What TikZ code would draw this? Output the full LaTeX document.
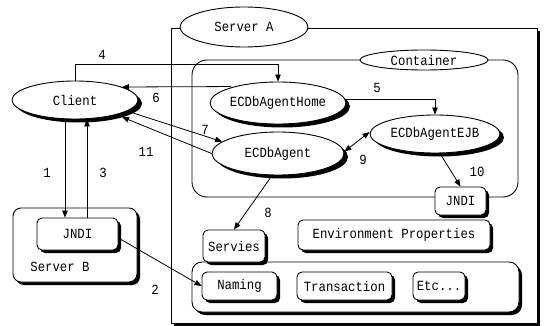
\documentclass[tikz,border=0pt]{standalone}
\usepackage{fontspec}
\setmonofont{Liberation Mono}[FakeStretch=0.88]
\usetikzlibrary{shapes.geometric,shadows,arrows.meta,calc}
\begin{document}
\begin{tikzpicture}[x=1pt,y=-1pt,
  font=\ttfamily\fontsize{14}{16}\selectfont,
  shad/.style={drop shadow={shadow xshift=3pt,shadow yshift=-3pt,fill=black,opacity=1}},
  eshad/.style={drop shadow={shadow xshift=4pt,shadow yshift=-3.5pt,fill=black,opacity=1}},
  ell/.style={ellipse,draw,fill=white,line width=0.9pt,inner sep=0pt},
  sbox/.style={draw,fill=white,rounded corners=5pt,line width=0.9pt,inner sep=0pt,shad},
  arr/.style={-{Triangle[length=7pt,width=5.5pt]},line width=0.8pt},
  darr/.style={{Triangle[length=7pt,width=5.5pt]}-{Triangle[length=7pt,width=5.5pt]},line width=0.8pt},
  lbl/.style={inner sep=0pt}]
\useasboundingbox (0,0) rectangle (546,326);
% Server A
\node[draw,fill=white,line width=0.9pt,minimum width=366pt,minimum height=295pt,inner sep=0pt,shad] (srva) at (354,175.5) {};
\node[ell,minimum width=128pt,minimum height=40pt] (srvalbl) at (244,27) {Server A};
% Container
\node[draw,rounded corners=15pt,line width=0.9pt,minimum width=326pt,minimum height=137pt,inner sep=0pt] (cont) at (355,128.5) {};
\node[ell,minimum width=128pt,minimum height=20pt] (contlbl) at (424,60) {Container};
% Services container
\node[draw,fill=white,rounded corners=10pt,line width=0.9pt,minimum width=327pt,minimum height=50pt,inner sep=0pt,shad] (svc) at (355.5,287) {};
% Server B
\node[draw,fill=white,rounded corners=8pt,line width=0.9pt,minimum width=124pt,minimum height=74pt,inner sep=0pt,shad] (srvb) at (75,245) {};
\node[lbl] (srvblbl) at (60,267) {Server B};
% ellipses
\node[ell,eshad,minimum width=126pt,minimum height=38pt] (client) at (75,100) {Client};
\node[ell,eshad,minimum width=132pt,minimum height=42pt] (home) at (278,103) {ECDbAgentHome};
\node[ell,eshad,minimum width=132pt,minimum height=43pt] (agent) at (278,153.5) {ECDbAgent};
\node[ell,eshad,minimum width=130pt,minimum height=38pt] (ejb) at (435,134) {ECDbAgentEJB};
% boxes
\node[sbox,minimum width=81pt,minimum height=32pt] (jndib) at (77.5,234) {JNDI};
\node[sbox,minimum width=51pt,minimum height=28pt] (jndia) at (460.5,201) {JNDI};
\node[sbox,minimum width=192pt,minimum height=30pt] (env) at (394,235) {Environment Properties};
\node[sbox,minimum width=62pt,minimum height=32pt] (servies) at (234,246) {Servies};
\node[sbox,minimum width=75pt,minimum height=28pt] (naming) at (239.5,286) {Naming};
\node[sbox,minimum width=95pt,minimum height=28pt] (trans) at (344.5,286) {Transaction};
\node[sbox,minimum width=52pt,minimum height=28pt] (etc) at (439,286) {Etc...};
% connectors
\draw[arr] (client.north) -- ++(0,-16) -| (home.north);
\draw[arr] ([xshift=-47pt,yshift=-5pt]home.north) -- ([xshift=47pt,yshift=13pt]client.center);
\draw[arr] ([yshift=4pt]home.east) -| (ejb.north);
\draw[arr] (client.-12) -- (agent.168);
\draw[arr] (agent.west) -- ([shift={(47pt,-17pt)}]client.center);
\draw[darr] ([yshift=2pt]agent.east) -- ([yshift=2pt]ejb.west);
\draw[arr] ([xshift=5pt]ejb.south) -- (jndia.north);
\draw[arr] ([xshift=-6pt]agent.south) -- (servies.north);
\draw[arr] ([xshift=-10pt]client.south) -- ([xshift=-12.5pt]jndib.north);
\draw[arr] ([xshift=9.5pt]jndib.north) -- ([xshift=12pt]client.south);
\draw[arr] ([yshift=-4pt]jndib.east) -- (naming.west);
% labels
\node[lbl] (l4) at (102,55) {4};
\node[lbl] (l6) at (156,98) {6};
\node[lbl] (l7) at (205,130) {7};
\node[lbl] (l11) at (146,152) {11};
\node[lbl] (l5) at (377,88) {5};
\node[lbl] (l9) at (363,160) {9};
\node[lbl] (l10) at (477,172) {10};
\node[lbl] (l8) at (268,213) {8};
\node[lbl] (l1) at (47,173) {1};
\node[lbl] (l3) at (103,173) {3};
\node[lbl] (l2) at (155,290) {2};
\end{tikzpicture}
\end{document}
